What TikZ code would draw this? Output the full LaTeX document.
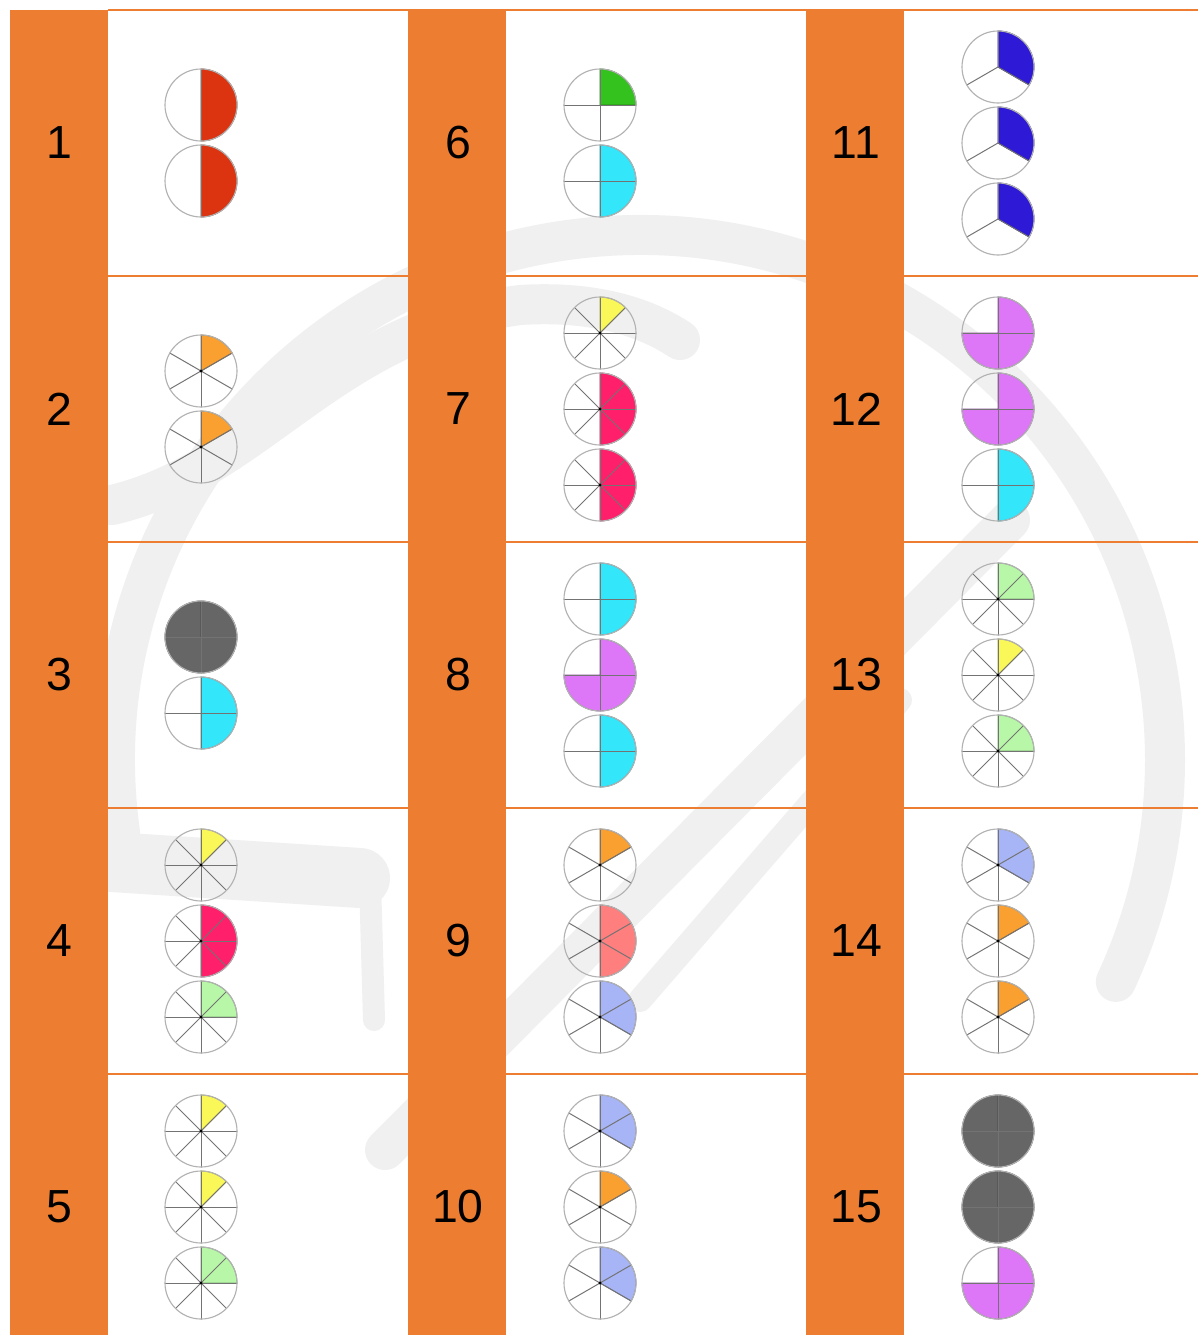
\documentclass[tikz,border=0pt]{standalone}
\usepackage{fontspec}
\setmainfont{Liberation Sans}
\usetikzlibrary{calc}

% a fraction pie: centre x, centre y, parts, shaded parts, colour
\newcommand{\fracpie}[5]{%
  \fill[#5, draw=#5!65!black, line width=0.6pt] (#1,#2) -- ++(-90:36)
    arc[start angle=-90, end angle={-90+360*#4/#3}, radius=36] -- cycle;
  \foreach \i in {1,...,#3}
    \draw[spoke] (#1,#2) -- ++({-90+360*\i/#3}:36);
  \draw[rim] (#1,#2) circle[radius=36];
  \ifnum#3>5 \fill[black] (#1,#2) circle[radius=1.6];\fi
}

\begin{document}
\begin{tikzpicture}[x=0.025cm, y=-0.025cm, line cap=round,
  spoke/.style={black!55, line width=0.7pt},
  rim/.style={gray!60, line width=0.8pt},
  numlbl/.style={font=\fontsize{33}{40}\selectfont, text=black, inner sep=0pt},
  wmark/.style={draw=wmarkG, line cap=round}]
\definecolor{tabO}{RGB}{237,125,49}
\definecolor{wmarkG}{RGB}{240,240,240}
\definecolor{redH}{RGB}{220,52,16}
\definecolor{greenQ}{RGB}{52,194,30}
\definecolor{cyanQ}{RGB}{51,230,250}
\definecolor{orangeS}{RGB}{249,160,49}
\definecolor{grayD}{RGB}{102,102,102}
\definecolor{yellowE}{RGB}{250,248,88}
\definecolor{pinkE}{RGB}{255,31,106}
\definecolor{violetQ}{RGB}{221,119,247}
\definecolor{salmonS}{RGB}{255,127,127}
\definecolor{lavS}{RGB}{167,181,247}
\definecolor{greenL}{RGB}{184,247,168}
\definecolor{blueT}{RGB}{46,26,214}
% ---- page ----
\fill[white] (0,0) rectangle (1198,1335);
\useasboundingbox (0,0) rectangle (1198,1335);
% ---- faint watermark ----
\draw[wmark, line width=40*0.025cm]
  (640,760) ++(-188:525) arc[start angle=-188, end angle=25, radius=525];
\draw[wmark, line width=40*0.025cm] (1010,520) -- (385,1150);
\draw[wmark, line width=24*0.025cm] (900,700) -- (640,1000);
\draw[wmark, line width=40*0.025cm]
  (112,505) .. controls (260,470) and (330,330) .. (520,305)
  .. controls (600,300) and (650,320) .. (680,340);
\draw[wmark, line width=60*0.025cm] (112,862) -- (360,878);
\draw[wmark, line width=22*0.025cm] (370,880) -- (374,1020);
% ---- orange label columns ----
\foreach \x in {10,408,806}
  \fill[tabO] (\x,10) rectangle ++(98,1325);
% ---- row rules ----
\foreach \y in {10,276,542,808,1074}
  \draw[tabO, line width=2*0.025cm, line cap=butt] (108,\y) -- (1198,\y);
% ---- row numbers ----
\foreach \x [count=\c from 0] in {59,458,856}
  \foreach \r in {0,...,4} {
    \pgfmathtruncatemacro\num{5*\c+\r+1}
    \node[numlbl] (num\num) at (\x,{143+266*\r}) {\num};
  }
% ---- pies, first column ----
\foreach \cy/\n/\k/\col in {105/2/1/redH, 181/2/1/redH,
    371/6/1/orangeS, 447/6/1/orangeS,
    637/4/4/grayD, 713/4/2/cyanQ,
    865/8/1/yellowE, 941/8/4/pinkE, 1017/8/2/greenL,
    1131/8/1/yellowE, 1207/8/1/yellowE, 1283/8/2/greenL}
  {\fracpie{201}{\cy}{\n}{\k}{\col}}
% ---- pies, second column ----
\foreach \cy/\n/\k/\col in {105/4/1/greenQ, 181/4/2/cyanQ,
    333/8/1/yellowE, 409/8/4/pinkE, 485/8/4/pinkE,
    599/4/2/cyanQ, 675/4/3/violetQ, 751/4/2/cyanQ,
    865/6/1/orangeS, 941/6/3/salmonS, 1017/6/2/lavS,
    1131/6/2/lavS, 1207/6/1/orangeS, 1283/6/2/lavS}
  {\fracpie{600}{\cy}{\n}{\k}{\col}}
% ---- pies, third column ----
\foreach \cy/\n/\k/\col in {67/3/1/blueT, 143/3/1/blueT, 219/3/1/blueT,
    333/4/3/violetQ, 409/4/3/violetQ, 485/4/2/cyanQ,
    599/8/2/greenL, 675/8/1/yellowE, 751/8/2/greenL,
    865/6/2/lavS, 941/6/1/orangeS, 1017/6/1/orangeS,
    1131/4/4/grayD, 1207/4/4/grayD, 1283/4/3/violetQ}
  {\fracpie{998}{\cy}{\n}{\k}{\col}}
\end{tikzpicture}
\end{document}
